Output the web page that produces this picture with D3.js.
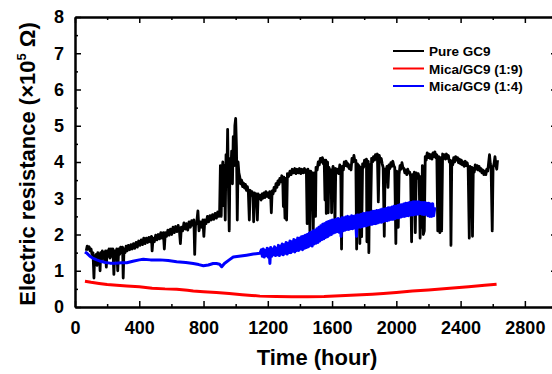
<!DOCTYPE html>
<html>
<head>
<meta charset="utf-8">
<script src="https://cdn.jsdelivr.net/npm/d3@7/dist/d3.min.js"></script>
<style>
  body { margin: 0; background: #fff; }
  text { font-family: "Liberation Sans", Arial, sans-serif; font-weight: bold; fill: #000; }
</style>
</head>
<body>
<script>
(function(window){
    'use strict'

    // tick labels
    var xTicks = [0, 400, 800, 1200, 1600, 2000, 2400, 2800];
    var yTicks = [0, 1, 2, 3, 4, 5, 6, 7, 8];
    var seriesNames = ['Pure GC9', 'Mica/GC9 (1:9)', 'Mica/GC9 (1:4)'];
    var seriesColors = ['#000000', '#ff0000', '#0000ff'];

    // [hour, resistance x10^5 ohm]
    var pureGC9 = [
        [70,1.55],[76,1.68],[82,1.6],[88,1.66],[94,1.55],[100,1.6],[106,1.45],[112,1.5],[118,0.8],[122,1.4],
        [127,1.25],[132,1.45],[137,1.15],[142,1.5],[147,1.3],[152,1.45],[156,1.0],[160,1.5],[165,1.3],[170,1.55],
        [175,1.35],[180,1.5],[185,1.25],[190,1.55],[195,1.1],[200,1.55],[206,1.4],[212,1.6],[218,1.35],[224,1.6],
        [230,1.4],[236,1.6],[242,0.9],[248,1.55],[254,1.4],[260,1.6],[266,1.0],[272,1.6],[278,1.45],[284,1.65],
        [290,1.5],[296,1.65],[300,0.8],[305,1.6],[312,1.5],[318,1.68],[325,1.55],[332,1.7],[340,1.58],[348,1.72],
        [356,1.6],[364,1.75],[372,1.62],[380,1.78],[388,1.65],[396,1.82],[404,1.7],[412,1.85],[420,1.72],[428,1.9],
        [436,1.75],[444,1.9],[452,1.78],[460,1.92],[468,1.8],[476,1.95],[480,1.55],[486,1.9],[494,1.8],[502,1.98],
        [510,1.85],[518,2.0],[526,1.88],[534,2.05],[542,1.9],[550,2.05],[556,1.6],[562,2.05],[570,1.95],[578,2.12],
        [586,1.98],[594,2.15],[602,2.0],[610,2.2],[618,2.05],[626,2.22],[634,2.08],[642,2.25],[650,2.1],[656,1.75],
        [662,2.2],[670,2.1],[678,2.32],[686,2.15],[694,2.3],[702,2.12],[710,2.35],[718,2.2],[726,2.38],[734,2.25],
        [740,2.4],[745,1.45],[750,2.25],[758,2.35],[765,2.65],[772,2.1],[780,2.35],[788,2.2],[796,2.4],[802,1.95],
        [808,2.4],[816,2.3],[824,2.5],[832,2.35],[840,2.52],[848,2.4],[856,2.55],[864,2.42],[872,2.58],[880,2.45],
        [888,2.62],[895,2.5],
        [900,2.6],[905,3.9],[910,2.5],[915,3.7],[920,4.0],[925,2.8],[930,3.9],[935,2.4],[940,4.2],[945,3.5],
        [950,4.9],[955,3.3],[960,2.1],[965,4.1],[970,3.7],[975,4.3],[980,3.4],[985,4.7],[990,3.9],[995,5.0],
        [1000,5.2],[1005,4.4],[1010,2.4],[1015,4.0],[1020,3.7],
        [1025,3.6],[1031,3.4],[1037,3.5],[1043,3.32],[1049,3.42],[1055,3.28],[1061,3.38],[1067,3.22],[1073,3.32],[1079,3.15],
        [1085,2.4],[1090,3.22],[1096,3.08],[1102,3.18],[1108,3.02],[1112,2.35],[1117,3.15],[1123,3.0],[1129,3.12],[1135,2.4],
        [1140,3.12],[1146,2.98],[1152,3.08],[1158,2.95],[1164,3.12],[1170,3.0],[1176,3.15],[1182,3.02],[1188,3.18],[1194,3.05],
        [1200,3.15],[1206,3.02],[1212,3.18],[1218,3.05],[1222,2.6],[1227,3.2],[1233,3.12],[1239,3.3],[1245,3.2],[1251,3.4],
        [1257,3.3],[1263,3.48],[1269,3.38],[1275,3.55],[1281,3.45],[1287,3.62],[1293,3.5],[1297,2.77],[1300,3.58],[1307,2.45],
        [1312,3.55],[1317,2.4],[1322,3.68],[1330,3.6],[1338,3.75],[1345,3.65],[1352,3.8],[1360,3.7],[1368,3.82],[1375,3.68],
        [1382,3.8],[1390,3.7],[1397,3.82],[1405,3.68],[1412,3.8],[1420,3.7],[1428,3.82],[1435,3.7],[1440,3.78],[1445,2.3],
        [1450,3.8],[1456,3.7],[1462,2.1],[1467,3.75],[1474,3.62],[1478,3.7],[1483,2.1],[1488,3.7],[1494,3.6],[1497,2.5],
        [1500,3.85],[1507,3.78],[1514,4.0],[1520,3.92],[1527,4.1],[1534,4.0],[1540,4.12],[1546,3.95],[1551,4.05],[1556,2.95],
        [1561,4.05],[1564,2.58],[1567,3.9],[1572,4.0],[1576,2.6],[1581,3.85],[1588,3.7],[1594,3.78],[1597,2.6],[1600,3.65],
        [1606,3.88],[1612,3.75],[1618,2.3],[1623,3.82],[1630,3.7],[1636,3.8],[1642,3.68],[1648,3.92],[1654,3.8],[1659,1.6],
        [1664,3.88],[1670,3.78],[1676,4.0],[1682,3.9],[1688,4.02],[1694,3.88],[1700,3.95],[1706,3.82],[1712,3.9],[1718,3.78],
        [1724,4.1],[1730,4.0],[1736,4.18],[1742,4.02],[1748,4.05],[1753,1.6],[1758,3.95],[1764,3.82],[1768,3.9],[1773,1.75],
        [1778,3.85],[1784,1.94],[1790,3.95],[1796,3.85],[1802,4.05],[1808,3.95],[1814,4.08],[1817,1.8],[1820,3.95],[1825,4.02],
        [1829,1.5],[1834,3.92],[1840,2.6],[1846,4.1],[1852,4.0],[1858,4.15],[1864,4.05],[1870,4.2],[1876,4.08],[1882,4.22],
        [1888,2.9],[1894,4.18],[1900,4.05],[1906,4.1],[1912,3.95],[1918,3.85],[1925,1.95],[1930,3.8],[1936,3.72],[1942,3.88],
        [1948,3.3],[1954,3.92],[1960,3.82],[1966,3.98],[1972,3.88],[1978,4.02],[1984,3.9],[1990,3.85],[1997,1.75],[2002,3.75],
        [2007,3.65],[2012,2.2],[2017,3.65],[2023,3.9],[2029,3.8],[2035,3.98],[2041,3.85],[2047,3.82],[2053,3.7],[2059,3.78],
        [2065,3.65],[2071,3.8],[2077,3.7],[2083,3.72],[2089,3.6],[2095,1.8],[2100,3.65],[2106,3.55],[2112,3.72],[2118,2.05],
        [2124,3.7],[2130,3.55],[2136,3.68],[2142,3.58],[2148,1.9],[2153,3.6],[2157,2.2],[2162,3.9],[2168,2.0],[2174,2.1],
        [2180,4.15],[2186,4.05],[2192,4.25],[2198,4.12],[2204,4.22],[2210,4.1],[2216,4.2],[2222,4.08],[2228,4.25],[2234,4.15],
        [2240,4.28],[2246,4.12],[2252,4.2],[2258,2.1],[2264,4.15],[2271,2.05],[2276,4.12],[2282,2.1],[2288,4.22],[2294,4.1],
        [2300,4.2],[2306,4.08],[2312,4.22],[2318,4.1],[2324,4.18],[2330,4.0],[2336,4.05],[2340,1.7],[2345,4.02],[2351,3.92],
        [2357,4.12],[2363,4.0],[2369,4.15],[2375,4.05],[2381,4.12],[2387,3.98],[2393,4.08],[2399,3.95],[2405,4.05],[2411,3.92],
        [2417,4.0],[2423,3.88],[2429,4.02],[2435,3.9],[2441,3.98],[2447,3.85],[2454,1.9],[2459,3.88],[2465,3.78],[2470,3.85],
        [2474,1.95],[2479,3.82],[2485,3.72],[2491,3.92],[2497,3.8],[2503,3.9],[2509,3.78],[2515,3.88],[2521,3.75],[2527,3.82],
        [2533,3.7],[2539,3.78],[2545,3.65],[2551,3.75],[2557,3.65],[2563,3.8],[2569,3.75],[2575,4.0],[2580,4.2],[2585,3.95],
        [2590,3.8],[2597,2.1],[2602,3.85],[2608,3.95],[2614,4.15],[2620,3.9],[2625,3.8],[2630,4.05]
    ];

    var mica19 = [
        [62,0.71],[100,0.68],[150,0.65],[200,0.62],[260,0.6],[322,0.58],[400,0.56],[480,0.52],[560,0.5],[633,0.49],
        [700,0.46],[736,0.44],[800,0.42],[880,0.4],[960,0.37],[1040,0.34],[1100,0.32],[1151,0.3],[1250,0.29],[1350,0.28],
        [1450,0.28],[1550,0.29],[1650,0.31],[1750,0.33],[1850,0.35],[1919,0.37],[2000,0.4],[2100,0.44],[2200,0.47],[2333,0.52],
        [2450,0.56],[2550,0.6],[2624,0.63]
    ];

    var mica14 = [
        [62,1.52],[75,1.48],[93,1.4],[110,1.35],[135,1.3],[160,1.26],[190,1.23],[218,1.21],[250,1.21],[290,1.22],
        [322,1.22],[360,1.26],[400,1.3],[425,1.32],[470,1.3],[529,1.3],[580,1.28],[633,1.25],[690,1.23],[736,1.2],
        [770,1.17],[799,1.14],[830,1.16],[860,1.2],[881,1.2],[900,1.18],[913,1.11],[930,1.2],[960,1.3],[985,1.38],
        [1020,1.4],[1068,1.43],[1110,1.46],[1151,1.48],
        [1160,1.58],[1166,1.4],[1172,1.6],[1178,1.38],[1184,1.56],[1190,1.42],[1196,1.62],[1202,1.38],[1208,1.6],[1213,1.2],
        [1218,1.64],[1224,1.4],[1230,1.6],[1236,1.44],[1242,1.66],[1248,1.42],[1254,1.62],[1260,1.44],[1266,1.7],[1272,1.42],
        [1278,1.68],[1284,1.46],[1290,1.74],[1296,1.44],[1302,1.72],[1308,1.48],[1314,1.78],[1320,1.46],[1326,1.76],[1332,1.5],
        [1338,1.82],[1344,1.5],[1350,1.8],[1356,1.54],[1362,1.86],[1368,1.52],[1374,1.84],[1380,1.56],[1386,1.9],[1392,1.56],
        [1398,1.9],[1404,1.6],[1410,1.94],[1416,1.58],[1422,1.95],[1428,1.62],[1434,1.98],[1440,1.64],[1446,2.0],[1452,1.66],
        [1458,2.04],[1464,1.7],[1470,2.06],[1476,1.68],[1482,2.1],[1488,1.74],[1494,2.12],[1500,1.76],[1506,2.16],[1512,1.78],
        [1518,2.2],[1524,1.82],[1530,2.24],[1536,1.86],[1542,2.28],[1548,1.88],[1554,2.3],[1560,1.92],[1566,2.34],[1572,1.94],
        [1578,2.36],[1584,1.98],[1590,2.38],[1596,2.0],[1602,2.4],[1608,2.04],[1614,2.4],[1620,2.06],[1626,2.42],[1632,2.08],
        [1638,2.44],[1644,2.06],[1650,2.42],[1656,1.95],[1662,2.46],[1668,2.1],[1674,2.46],[1680,2.12],[1686,2.48],[1692,2.14],
        [1698,2.5],[1704,2.14],[1710,2.48],[1716,2.16],[1722,2.52],[1728,2.16],[1734,2.5],[1740,2.18],[1746,2.52],[1752,1.95],
        [1758,2.54],[1764,2.2],[1770,2.54],[1776,2.2],[1782,2.56],[1788,2.22],[1794,2.58],[1800,2.24],[1806,2.58],[1812,2.24],
        [1818,2.6],[1824,2.26],[1830,2.6],[1836,2.28],[1842,2.62],[1848,2.28],[1854,2.64],[1860,2.3],[1866,2.64],[1872,2.3],
        [1878,2.66],[1884,2.32],[1890,2.66],[1896,2.34],[1902,2.68],[1908,2.34],[1914,2.7],[1920,2.36],[1926,2.7],[1932,2.38],
        [1938,2.72],[1944,2.38],[1950,2.74],[1956,2.4],[1962,2.74],[1968,2.42],[1974,2.76],[1980,2.42],[1986,2.78],[1992,2.44],
        [1998,2.78],[2004,2.46],[2010,2.8],[2016,2.46],[2022,2.82],[2028,2.48],[2034,2.82],[2040,2.5],[2046,2.84],[2052,2.5],
        [2058,2.86],[2064,2.52],[2070,2.86],[2076,2.52],[2082,2.88],[2088,2.54],[2094,2.88],[2100,2.54],[2106,2.9],[2112,2.55],
        [2118,2.9],[2124,2.56],[2130,2.9],[2136,2.56],[2142,2.9],[2148,2.58],[2154,2.88],[2160,2.56],[2166,2.88],[2172,2.55],
        [2178,2.88],[2184,2.56],[2190,2.86],[2196,2.52],[2202,2.86],[2208,2.5],[2214,2.84],[2220,2.5],[2226,2.85],[2232,2.52],
        [2240,2.75]
    ];

    var W = 552, H = 374;
    var left = 75, right = 557, top = 17, bottom = 307;

    var svg = d3.select('body').append('svg')
        .attr('width', W)
        .attr('height', H);

    var x = d3.scaleLinear().domain([0, 3000]).range([left, right]);
    var y = d3.scaleLinear().domain([0, 8]).range([bottom, top]);

    svg.append('defs').append('clipPath').attr('id', 'plot')
        .append('rect')
        .attr('x', left).attr('y', top)
        .attr('width', right - left).attr('height', bottom - top);

    var line = d3.line()
        .x(function(d) { return x(d[0]); })
        .y(function(d) { return y(d[1]); });

    var plot = svg.append('g').attr('clip-path', 'url(#plot)');
    var series = [pureGC9, mica19, mica14];
    var widths = [2.8, 3, 3];
    [1, 0, 2].forEach(function(i) {
        plot.append('path')
            .datum(series[i])
            .attr('d', line)
            .attr('fill', 'none')
            .attr('stroke', seriesColors[i])
            .attr('stroke-width', widths[i])
            .attr('stroke-linejoin', 'round');
    });

    // frame with inward ticks
    var xMinor = d3.range(200, 3000, 400);
    var yMinor = d3.range(0.5, 8, 1);

    function axis(gen, tr) {
        return svg.append('g').attr('transform', tr).call(gen);
    }
    var tickStyle = function(g) {
        g.selectAll('.domain').attr('stroke', '#000').attr('stroke-width', 2);
        g.selectAll('.tick line').attr('stroke', '#000').attr('stroke-width', 1.5);
    };

    axis(d3.axisBottom(x).tickValues(xMinor).tickSize(-3).tickSizeOuter(0).tickFormat(''), 'translate(0,' + bottom + ')').call(tickStyle);
    axis(d3.axisTop(x).tickValues(xMinor).tickSize(-3).tickSizeOuter(0).tickFormat(''), 'translate(0,' + top + ')').call(tickStyle);
    axis(d3.axisLeft(y).tickValues(yMinor).tickSize(-3).tickSizeOuter(0).tickFormat(''), 'translate(' + left + ',0)').call(tickStyle);
    axis(d3.axisRight(y).tickValues(yMinor).tickSize(-3).tickSizeOuter(0).tickFormat(''), 'translate(' + right + ',0)').call(tickStyle);

    var gx = axis(d3.axisBottom(x).tickValues(xTicks).tickFormat(d3.format('d')).tickSize(-6).tickSizeOuter(0).tickPadding(14), 'translate(0,' + bottom + ')').call(tickStyle);
    axis(d3.axisTop(x).tickValues(xTicks).tickSize(-6).tickSizeOuter(0).tickFormat(''), 'translate(0,' + top + ')').call(tickStyle);
    var gy = axis(d3.axisLeft(y).tickValues(yTicks).tickFormat(d3.format('d')).tickSize(-6).tickSizeOuter(0).tickPadding(11), 'translate(' + left + ',0)').call(tickStyle);
    axis(d3.axisRight(y).tickValues(yTicks).tickSize(-6).tickSizeOuter(0).tickFormat(''), 'translate(' + right + ',0)').call(tickStyle);

    [gx, gy].forEach(function(g) {
        g.selectAll('.tick text')
            .attr('font-family', '"Liberation Sans", Arial, sans-serif')
            .attr('font-weight', 'bold')
            .attr('font-size', 18)
            .attr('fill', '#000');
    });

    // axis titles
    svg.append('text')
        .attr('x', 317).attr('y', 365)
        .attr('text-anchor', 'middle')
        .attr('font-size', 22)
        .text('Time (hour)');

    var yt = svg.append('text')
        .attr('transform', 'translate(35,164) rotate(-90)')
        .attr('text-anchor', 'middle')
        .attr('font-size', 22);
    yt.append('tspan').text('Electric resistance (\u00d710');
    yt.append('tspan').attr('font-size', 13).attr('dy', -9).text('5');
    yt.append('tspan').attr('dy', 9).text(' \u03a9)');

    // legend
    var leg = svg.append('g');
    seriesNames.forEach(function(name, i) {
        var ly = 51 + i * 17.5;
        leg.append('line')
            .attr('x1', 393).attr('x2', 424)
            .attr('y1', ly).attr('y2', ly)
            .attr('stroke', seriesColors[i])
            .attr('stroke-width', 2);
        leg.append('text')
            .attr('x', 429).attr('y', ly + 5)
            .attr('font-size', 13.5)
            .text(name);
    });

})(window);
</script>
</body>
</html>
